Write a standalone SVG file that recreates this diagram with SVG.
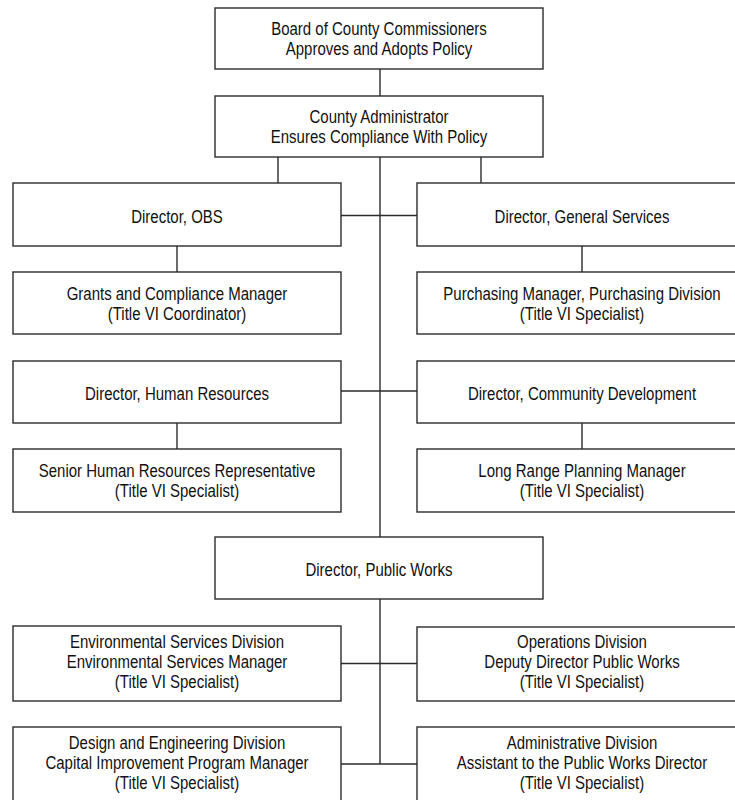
<svg xmlns="http://www.w3.org/2000/svg" width="735" height="800" viewBox="0 0 735 800">
<style>
.box{fill:#fff;stroke:#2b2b2b;stroke-width:1.4}
.ln{stroke:#2b2b2b;stroke-width:1.4;fill:none}
text{font-family:"Liberation Sans",Arial,sans-serif;font-size:18.5px;fill:#111;text-anchor:middle}
</style>
<rect width="735" height="800" fill="#fff"/>
<g id="connectors">
<line class="ln" x1="380" y1="69" x2="380" y2="96"/>
<line class="ln" x1="278" y1="157" x2="278" y2="183"/>
<line class="ln" x1="481" y1="157" x2="481" y2="183"/>
<line class="ln" x1="380" y1="157" x2="380" y2="537"/>
<line class="ln" x1="341" y1="215.5" x2="417" y2="215.5"/>
<line class="ln" x1="177" y1="246" x2="177" y2="272"/>
<line class="ln" x1="582" y1="246" x2="582" y2="272"/>
<line class="ln" x1="341" y1="391" x2="417" y2="391"/>
<line class="ln" x1="177" y1="423" x2="177" y2="449"/>
<line class="ln" x1="582" y1="423" x2="582" y2="449"/>
<line class="ln" x1="380" y1="599" x2="380" y2="764"/>
<line class="ln" x1="341" y1="663.5" x2="417" y2="663.5"/>
<line class="ln" x1="341" y1="764" x2="417" y2="764"/>
</g>
<g id="board">
<rect class="box" x="215" y="8" width="328" height="61"/>
<text transform="translate(379,35) scale(0.81,1)">Board of County Commissioners</text>
<text transform="translate(379,55) scale(0.81,1)">Approves and Adopts Policy</text>
</g>
<g id="county-admin">
<rect class="box" x="215" y="96" width="328" height="61"/>
<text transform="translate(379,123) scale(0.81,1)">County Administrator</text>
<text transform="translate(379,143) scale(0.81,1)">Ensures Compliance With Policy</text>
</g>
<g id="director-obs">
<rect class="box" x="13" y="183" width="328" height="63"/>
<text transform="translate(177,223) scale(0.81,1)">Director, OBS</text>
</g>
<g id="director-general-services">
<rect class="box" x="417" y="183" width="330" height="63"/>
<text transform="translate(582,223) scale(0.81,1)">Director, General Services</text>
</g>
<g id="grants-manager">
<rect class="box" x="13" y="272" width="328" height="62"/>
<text transform="translate(177,299.5) scale(0.81,1)">Grants and Compliance Manager</text>
<text transform="translate(177,319.5) scale(0.81,1)">(Title VI Coordinator)</text>
</g>
<g id="purchasing-manager">
<rect class="box" x="417" y="272" width="330" height="62"/>
<text transform="translate(582,299.5) scale(0.81,1)">Purchasing Manager, Purchasing Division</text>
<text transform="translate(582,319.5) scale(0.81,1)">(Title VI Specialist)</text>
</g>
<g id="director-hr">
<rect class="box" x="13" y="361" width="328" height="62"/>
<text transform="translate(177,400) scale(0.81,1)">Director, Human Resources</text>
</g>
<g id="director-community-development">
<rect class="box" x="417" y="361" width="330" height="62"/>
<text transform="translate(582,400) scale(0.81,1)">Director, Community Development</text>
</g>
<g id="senior-hr-rep">
<rect class="box" x="13" y="449" width="328" height="63"/>
<text transform="translate(177,477) scale(0.81,1)">Senior Human Resources Representative</text>
<text transform="translate(177,497) scale(0.81,1)">(Title VI Specialist)</text>
</g>
<g id="long-range-planning">
<rect class="box" x="417" y="449" width="330" height="63"/>
<text transform="translate(582,477) scale(0.81,1)">Long Range Planning Manager</text>
<text transform="translate(582,497) scale(0.81,1)">(Title VI Specialist)</text>
</g>
<g id="director-public-works">
<rect class="box" x="215" y="537" width="328" height="62"/>
<text transform="translate(379,576) scale(0.81,1)">Director, Public Works</text>
</g>
<g id="environmental-services">
<rect class="box" x="13" y="626" width="328" height="75"/>
<text transform="translate(177,648) scale(0.81,1)">Environmental Services Division</text>
<text transform="translate(177,668) scale(0.81,1)">Environmental Services Manager</text>
<text transform="translate(177,688) scale(0.81,1)">(Title VI Specialist)</text>
</g>
<g id="operations">
<rect class="box" x="417" y="627" width="330" height="74"/>
<text transform="translate(582,648) scale(0.81,1)">Operations Division</text>
<text transform="translate(582,668) scale(0.81,1)">Deputy Director Public Works</text>
<text transform="translate(582,688) scale(0.81,1)">(Title VI Specialist)</text>
</g>
<g id="design-engineering">
<rect class="box" x="13" y="727" width="328" height="90"/>
<text transform="translate(177,749) scale(0.81,1)">Design and Engineering Division</text>
<text transform="translate(177,769) scale(0.81,1)">Capital Improvement Program Manager</text>
<text transform="translate(177,789) scale(0.81,1)">(Title VI Specialist)</text>
</g>
<g id="administrative">
<rect class="box" x="417" y="727" width="330" height="90"/>
<text transform="translate(582,749) scale(0.81,1)">Administrative Division</text>
<text transform="translate(582,769) scale(0.81,1)">Assistant to the Public Works Director</text>
<text transform="translate(582,789) scale(0.81,1)">(Title VI Specialist)</text>
</g>
</svg>
